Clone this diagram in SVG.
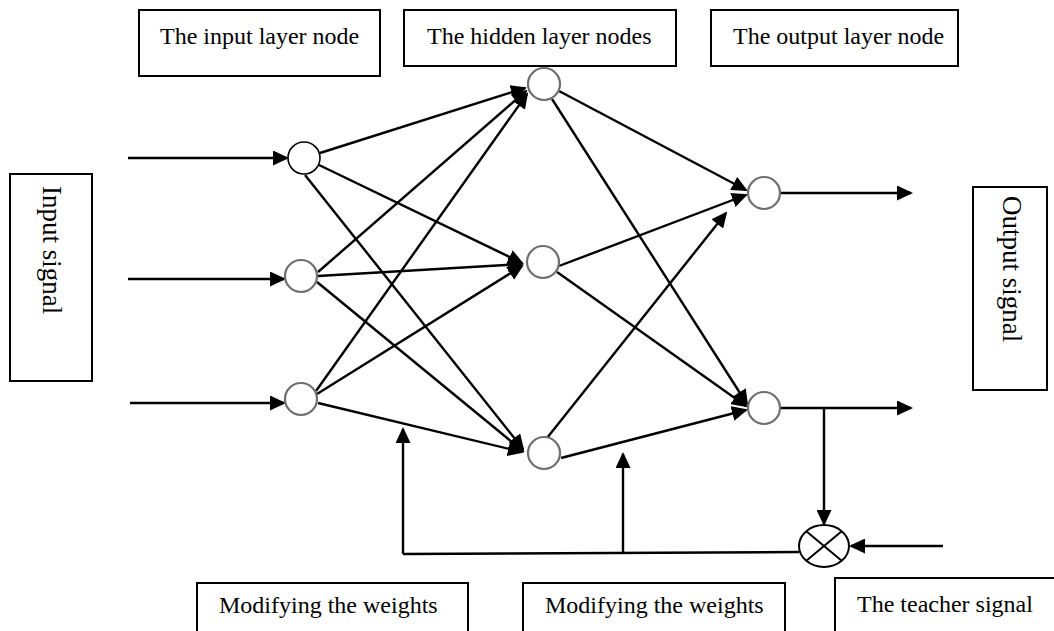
<svg xmlns="http://www.w3.org/2000/svg" width="1054" height="631" viewBox="0 0 1054 631">
  <style>
    .box { fill: #fff; stroke: #000; stroke-width: 2; }
    .lbl { font-family: "Liberation Serif", "Times New Roman", serif; font-size: 24px; fill: #000; }
    .side { font-size: 27px; }
    .node { fill: #fff; stroke: #6e6e6e; stroke-width: 2.2; }
    .node-dark { fill: #fff; stroke: #000; stroke-width: 1.6; }
    .wire { fill: none; stroke: #000; stroke-width: 2.4; }
    .arrow { fill: none; stroke: #000; stroke-width: 2.4; marker-end: url(#head); }
  </style>
  <defs>
    <marker id="head" viewBox="0 0 16 15" refX="14" refY="7.5" markerWidth="16" markerHeight="15" markerUnits="userSpaceOnUse" orient="auto">
      <path d="M0,0 L16,7.5 L0,15 z" fill="#000"/>
    </marker>
  </defs>

  <rect width="1054" height="631" fill="#fff"/>

  <!-- layer captions -->
  <g id="cap-input">
    <rect class="box" x="139" y="10" width="241" height="66"/>
    <text class="lbl" x="160" y="44">The input layer node</text>
  </g>
  <g id="cap-hidden">
    <rect class="box" x="404" y="10" width="272" height="56"/>
    <text class="lbl" x="427" y="44">The hidden layer nodes</text>
  </g>
  <g id="cap-output">
    <rect class="box" x="711" y="10" width="247" height="56"/>
    <text class="lbl" x="733" y="44">The output layer node</text>
  </g>

  <!-- side labels -->
  <g id="input-signal">
    <rect class="box" x="10" y="174" width="82" height="207"/>
    <text class="lbl side" transform="translate(43,186) rotate(90)">Input signal</text>
  </g>
  <g id="output-signal">
    <rect class="box" x="973" y="187" width="74" height="203"/>
    <text class="lbl side" transform="translate(1003,196) rotate(90)">Output signal</text>
  </g>

  <!-- bottom captions -->
  <g id="mod-weights-1">
    <rect class="box" x="197" y="583" width="271" height="60"/>
    <text class="lbl" x="219" y="613">Modifying the weights</text>
  </g>
  <g id="mod-weights-2">
    <rect class="box" x="523" y="583" width="262" height="60"/>
    <text class="lbl" x="545" y="613">Modifying the weights</text>
  </g>
  <g id="teacher">
    <rect class="box" x="835" y="578" width="230" height="65"/>
    <text class="lbl" x="857" y="612">The teacher signal</text>
  </g>

  <!-- connectors -->
  <g id="connectors">
    <!-- input signals -->
    <line class="arrow" x1="128" y1="158" x2="287" y2="158"/>
    <line class="arrow" x1="128" y1="279" x2="284" y2="279"/>
    <line class="arrow" x1="130" y1="403" x2="284" y2="403"/>

    <!-- input to hidden -->
    <line class="arrow" x1="320" y1="153" x2="525" y2="88"/>
    <line class="arrow" x1="319" y1="165" x2="522" y2="263"/>
    <line class="arrow" x1="305" y1="175" x2="523" y2="449"/>
    <line class="arrow" x1="318" y1="272" x2="526" y2="91"/>
    <line class="arrow" x1="318" y1="276" x2="522" y2="264"/>
    <line class="arrow" x1="317" y1="282" x2="523" y2="451"/>
    <line class="arrow" x1="316" y1="391" x2="527" y2="94"/>
    <line class="arrow" x1="317" y1="394" x2="522" y2="266"/>
    <line class="arrow" x1="318" y1="403" x2="522" y2="452"/>

    <!-- hidden to output -->
    <line class="arrow" x1="559" y1="91" x2="746" y2="190"/>
    <line class="arrow" x1="552" y1="99" x2="747" y2="404"/>
    <line class="arrow" x1="559" y1="266" x2="746" y2="195"/>
    <line class="arrow" x1="557" y1="272" x2="746" y2="406"/>
    <line class="arrow" x1="547" y1="438" x2="726" y2="213"/>
    <line class="arrow" x1="561" y1="458" x2="746" y2="410"/>

    <!-- output signals -->
    <line class="arrow" x1="780" y1="193" x2="911" y2="193"/>
    <line class="arrow" x1="780" y1="408" x2="911" y2="408"/>

    <!-- error path -->
    <line class="arrow" x1="824" y1="408" x2="824" y2="524"/>
    <line class="arrow" x1="943" y1="546" x2="851" y2="546"/>
    <polyline class="wire" points="799,552 403,554"/>
    <line class="arrow" x1="403" y1="554" x2="403" y2="429"/>
    <line class="arrow" x1="623" y1="553" x2="623" y2="454"/>
  </g>

  <!-- input layer -->
  <g id="in-1"><circle class="node-dark" cx="304" cy="158" r="16"/></g>
  <g id="in-2"><circle class="node" cx="301" cy="276" r="16"/></g>
  <g id="in-3"><circle class="node" cx="301" cy="399" r="16"/></g>

  <!-- hidden layer -->
  <g id="hid-1"><circle class="node" cx="544" cy="84" r="16"/></g>
  <g id="hid-2"><circle class="node" cx="543" cy="262" r="16"/></g>
  <g id="hid-3"><circle class="node" cx="544" cy="453" r="16"/></g>

  <!-- output layer -->
  <g id="out-1"><circle class="node" cx="764" cy="193" r="16"/></g>
  <g id="out-2"><circle class="node" cx="764" cy="408" r="16"/></g>

  <!-- comparator -->
  <g id="comparator">
    <ellipse cx="824" cy="546" rx="25" ry="21" fill="#fff" stroke="#000" stroke-width="2"/>
    <line x1="806" y1="531" x2="842" y2="561" stroke="#000" stroke-width="2"/>
    <line x1="842" y1="531" x2="806" y2="561" stroke="#000" stroke-width="2"/>
  </g>
</svg>
